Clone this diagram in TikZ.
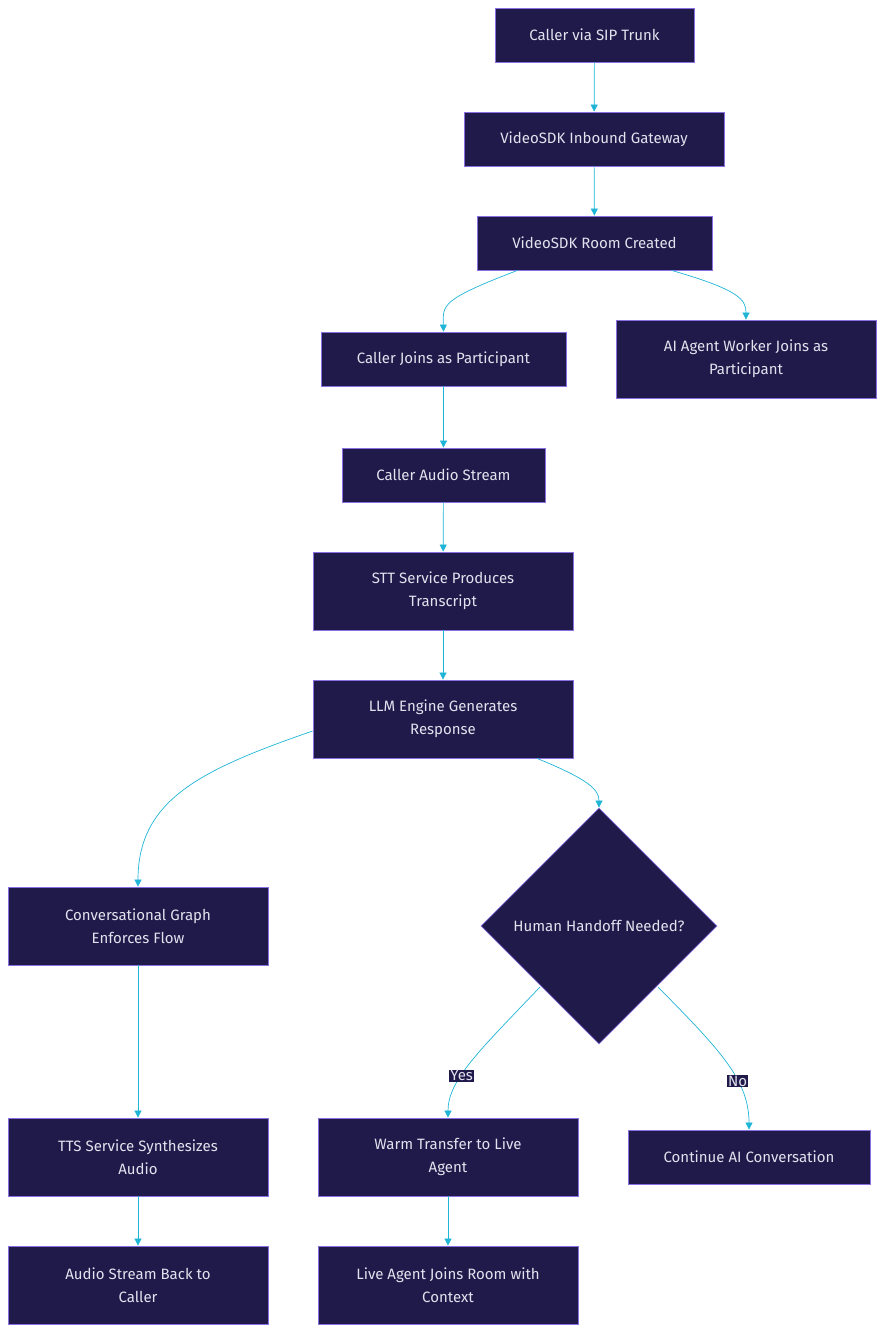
\documentclass[tikz,border=0pt]{standalone}
\usepackage{fontspec}
\setmainfont{Fira Sans}
\usetikzlibrary{shapes.geometric,arrows.meta}
\definecolor{boxfill}{HTML}{1F1A4A}
\definecolor{boxline}{HTML}{8A6FE0}
\definecolor{boxtext}{HTML}{E2E2EE}
\definecolor{flow}{HTML}{1FB5D6}
\tikzset{
  stage/.style={draw=boxline, fill=boxfill, text=boxtext, line width=0.8pt,
    font=\fontsize{15}{23}\selectfont, align=center, inner sep=0pt},
  choice/.style={diamond, draw=boxline, fill=boxfill, text=boxtext, line width=0.8pt,
    font=\fontsize{15}{23}\selectfont, minimum width=236pt, minimum height=236pt, inner sep=0pt},
  link/.style={draw=flow, line width=0.7pt, -{Triangle[length=7pt,width=7pt]}},
  tag/.style={fill=boxfill, text=boxtext, font=\fontsize{15}{18}\selectfont, inner sep=1pt}
}
\begin{document}
\begin{tikzpicture}[x=1pt,y=-1pt]
    \useasboundingbox (0,0) rectangle (884,1333);
    % Nodes
    \node[stage, minimum width=199, minimum height=54] (caller) at (594.5,35) {Caller via SIP Trunk};
    \node[stage, minimum width=260, minimum height=54] (gateway) at (594,139) {VideoSDK Inbound Gateway};
    \node[stage, minimum width=235, minimum height=54] (room) at (594.5,243) {VideoSDK Room Created};
    \node[stage, minimum width=245, minimum height=54] (joins) at (443.5,359) {Caller Joins as Participant};
    \node[stage, minimum width=260, minimum height=78] (agent) at (746,359) {AI Agent Worker Joins as\\Participant};
    \node[stage, minimum width=203, minimum height=54] (audio) at (443.5,475) {Caller Audio Stream};
    \node[stage, minimum width=260, minimum height=78] (stt) at (443,591) {STT Service Produces\\Transcript};
    \node[stage, minimum width=260, minimum height=78] (llm) at (443,719) {LLM Engine Generates\\Response};
    \node[stage, minimum width=260, minimum height=78] (graph) at (138,926) {Conversational Graph\\Enforces Flow};
    \node[choice] (handoff) at (599,926) {Human Handoff Needed?};
    \node[stage, minimum width=260, minimum height=78] (tts) at (138,1157) {TTS Service Synthesizes\\Audio};
    \node[stage, minimum width=260, minimum height=78] (warm) at (448,1157) {Warm Transfer to Live\\Agent};
    \node[stage, minimum width=242, minimum height=54] (continue) at (749,1157) {Continue AI Conversation};
    \node[stage, minimum width=260, minimum height=78] (back) at (138,1285) {Audio Stream Back to\\Caller};
    \node[stage, minimum width=260, minimum height=78] (live) at (448,1285) {Live Agent Joins Room with\\Context};

    % Lines
    \draw[link] (caller) -- (gateway);
    \draw[link] (gateway) -- (room);
    \draw[link] ([xshift=-77]room.south) .. controls (440,300) and (443,305) .. (joins.north);
    \draw[link] ([xshift=77]room.south) .. controls (740,290) and (746,300) .. (agent.north);
    \draw[link] (joins) -- (audio);
    \draw[link] (audio) -- (stt);
    \draw[link] (stt) -- (llm);
    \draw[link] ([yshift=-12]llm.west) .. controls (200,770) and (138,800) .. (graph.north);
    \draw[link] ([xshift=94]llm.south) .. controls (590,780) and (599,790) .. (handoff.north);
    \draw[link] (graph) -- (tts);
    \draw[link] (tts) -- (back);
    \draw[link] (warm) -- (live);
    \draw[link] (540,987) .. controls (480,1050) and (448,1080) .. (warm.north)
      node[tag, pos=0.62] {Yes};
    \draw[link] (658,987) .. controls (720,1050) and (749,1080) .. (continue.north)
      node[tag, pos=0.64] {No};
\end{tikzpicture}
\end{document}
